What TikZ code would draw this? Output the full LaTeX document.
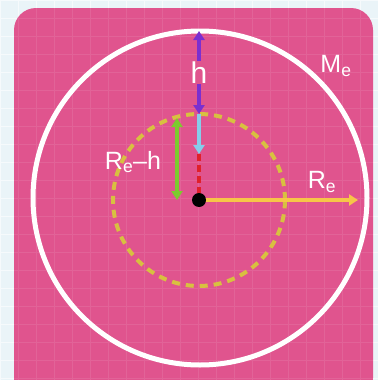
\documentclass[tikz,border=0pt]{standalone}
\usepackage{fontspec}
\setmainfont{Liberation Sans}
\usetikzlibrary{arrows.meta,positioning}
\definecolor{bgblue}{HTML}{EAF4F8}
\definecolor{cardpink}{HTML}{E0548E}
\definecolor{ryellow}{HTML}{F7C548}
\definecolor{dyellow}{HTML}{D8C040}
\definecolor{hpurple}{HTML}{7B2FD0}
\definecolor{lblue}{HTML}{86CDEB}
\definecolor{lgreen}{HTML}{7CCB2E}
\definecolor{dred}{HTML}{E0202A}

\begin{document}
\begin{tikzpicture}[
    x=1pt, y=1pt,
    lbl/.style={text=white, font=\fontsize{25}{25}\selectfont, inner sep=1pt},
    arr/.style={-{Triangle[length=9pt,width=11pt]}, line width=3.5pt},
    dbl/.style={{Triangle[length=9pt,width=11pt]}-{Triangle[length=9pt,width=11pt]}, line width=3.5pt}
]
\useasboundingbox (0,0) rectangle (378,-380);
\clip (0,0) rectangle (378,-380);
% background and card
\fill[bgblue] (0,0) rectangle (378,-380);
\draw[white, opacity=.6, step=18] (0,0) grid (378,-380);
\fill[cardpink, rounded corners=22pt] (14,-8) rectangle (373,-400);
\draw[white, opacity=.09, line width=1pt, step=18] (14,-8) grid (373,-380);

\coordinate (o) at (199,-200);
\coordinate (top) at (199,-31);
\coordinate (ctop) at (199,-114);

% earth and inner sphere
\draw[white, line width=5pt] (200,-198) circle[radius=167];
\draw[dyellow, line width=4pt, dash pattern=on 8pt off 6pt] (o) circle[radius=86];

% arrows
\draw[dbl, hpurple] (top) -- node[lbl, fill=cardpink, font=\fontsize{30}{30}\selectfont] (hl) {h} (ctop);
\draw[arr, lblue] (ctop) -- (199,-154) coordinate (cb);
\draw[dred, line width=3.5pt, dash pattern=on 7pt off 4pt] (cb) -- (o);
\draw[dbl, lgreen] (177,-118) coordinate (gt) -- (177,-200) coordinate (gb);
\draw[arr, ryellow] (o) -- (358,-200) coordinate (re);
\fill[black] (o) circle[radius=7];

% labels
\node[lbl] (rh) at (133,-162) {R\textsubscript{e}–h};
\node[lbl] (rel) at (322,-182) {R\textsubscript{e}};
\node[lbl] (me) at (336,-66) {M\textsubscript{e}};
\end{tikzpicture}
\end{document}
